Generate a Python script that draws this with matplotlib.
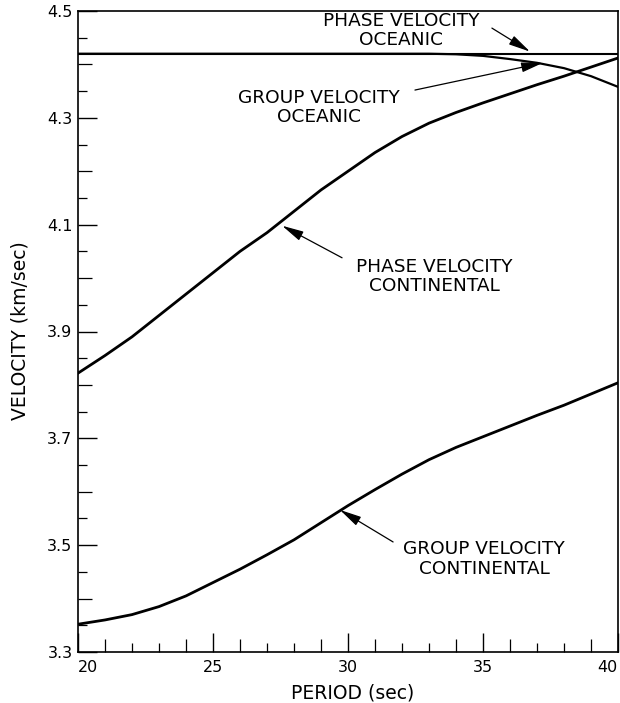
import matplotlib
matplotlib.use("Agg")
import matplotlib.pyplot as plt
from matplotlib.ticker import FixedLocator, NullFormatter

# ---- data ----
period = [20, 21, 22, 23, 24, 25, 26, 27, 28, 29, 30,
          31, 32, 33, 34, 35, 36, 37, 38, 39, 40]
phase_continental = [3.822, 3.855, 3.890, 3.930, 3.970, 4.010, 4.050, 4.085, 4.125, 4.165, 4.200,
                     4.235, 4.265, 4.290, 4.310, 4.328, 4.345, 4.362, 4.378, 4.395, 4.412]
group_continental = [3.352, 3.360, 3.370, 3.385, 3.405, 3.430, 3.455, 3.482, 3.510, 3.542, 3.574,
                     3.604, 3.633, 3.660, 3.683, 3.703, 3.723, 3.743, 3.762, 3.783, 3.804]
phase_oceanic = [4.420, 4.420, 4.420, 4.420, 4.420, 4.420, 4.420, 4.420, 4.420, 4.420, 4.420,
                 4.420, 4.420, 4.420, 4.420, 4.420, 4.420, 4.420, 4.420, 4.420, 4.420]
group_oceanic = [4.420, 4.420, 4.420, 4.420, 4.420, 4.420, 4.420, 4.420, 4.420, 4.420, 4.420,
                 4.420, 4.420, 4.420, 4.419, 4.416, 4.410, 4.403, 4.393, 4.378, 4.358]

x_major = [20, 25, 30, 35, 40]
x_major_labels = ["20", "25", "30", "35", "40"]
x_mid = [21, 24, 26, 29, 31, 34, 36, 39]
x_minor = [22, 23, 27, 28, 32, 33, 37, 38]
y_major = [3.3, 3.5, 3.7, 3.9, 4.1, 4.3, 4.5]
y_major_labels = ["3.3", "3.5", "3.7", "3.9", "4.1", "4.3", "4.5"]
y_mid = [3.4, 3.6, 3.8, 4.0, 4.2, 4.4]
y_minor = [3.35, 3.45, 3.55, 3.65, 3.75, 3.85, 3.95, 4.05, 4.15, 4.25, 4.35, 4.45]

labels = ["PHASE VELOCITY\nOCEANIC", "GROUP VELOCITY\nOCEANIC",
          "PHASE VELOCITY\nCONTINENTAL", "GROUP VELOCITY\nCONTINENTAL"]
label_pos = [(31.96, 4.463), (28.93, 4.319), (33.2, 4.003), (35.04, 3.474)]
arrow_start = [(35.33, 4.468), (32.48, 4.352), (29.78, 4.038), (31.67, 3.506)]
arrow_tip = [(36.74, 4.424), (37.22, 4.403), (27.56, 4.098), (29.70, 3.566)]

plt.rcParams["font.family"] = ["DejaVu Sans"]

fig = plt.figure(figsize=(6.2, 7.03), dpi=100)
ax = fig.add_axes([78 / 620, 51 / 703, 540 / 620, 641 / 703])

ax.plot(period, phase_oceanic, color="black", lw=1.5, solid_capstyle="butt")
ax.plot(period, group_oceanic, color="black", lw=1.6)
ax.plot(period, phase_continental, color="black", lw=2.0)
ax.plot(period, group_continental, color="black", lw=2.0)

ax.set_xlim(20, 40)
ax.set_ylim(3.3, 4.5)

ax.xaxis.set_major_locator(FixedLocator(x_major))
ax.set_xticklabels(x_major_labels)
ax.xaxis.set_minor_locator(FixedLocator(x_minor))
ax.yaxis.set_major_locator(FixedLocator(y_major))
ax.set_yticklabels(y_major_labels)
ax.yaxis.set_minor_locator(FixedLocator(y_minor))
ax.xaxis.set_minor_formatter(NullFormatter())
ax.yaxis.set_minor_formatter(NullFormatter())

ax.tick_params(which="major", direction="in", length=13.5, width=1.0,
               labelsize=11.5, top=False, right=False)
ax.tick_params(axis="x", which="major", pad=5.5)
ax.tick_params(axis="y", which="major", pad=4)
ax.tick_params(which="minor", direction="in", length=6.5, width=0.9,
               top=False, right=False)

xt = ax.get_xticklabels()
xt[0].set_horizontalalignment("left")
xt[-1].set_horizontalalignment("right")

# medium-length ticks
secx = ax.secondary_xaxis("bottom")
secx.set_xticks(x_mid)
secx.tick_params(direction="in", length=9.5, width=0.9, labelbottom=False)
secx.spines["bottom"].set_visible(False)
secy = ax.secondary_yaxis("left")
secy.set_yticks(y_mid)
secy.tick_params(direction="in", length=10, width=0.9, labelleft=False)
secy.spines["left"].set_visible(False)

for s in ax.spines.values():
    s.set_linewidth(1.2)

for lab, pos, st, tip in zip(labels, label_pos, arrow_start, arrow_tip):
    ax.text(pos[0], pos[1], lab, ha="center", va="center", multialignment="center",
            fontsize=13.3, linespacing=1.1)
    ax.annotate("", xy=tip, xytext=st,
                arrowprops=dict(arrowstyle="-|>,head_length=1.1,head_width=0.25",
                                mutation_scale=12, lw=0.9, color="black",
                                shrinkA=0, shrinkB=0))

fig.text(20 / 620, 1 - 331 / 703, "VELOCITY (km/sec)", rotation=90,
         ha="center", va="center", fontsize=13.5)
fig.text(353 / 620, 1 - 693 / 703, "PERIOD (sec)", ha="center", va="center",
         fontsize=13.5)

fig.savefig("out.png", dpi=100, facecolor="white")
